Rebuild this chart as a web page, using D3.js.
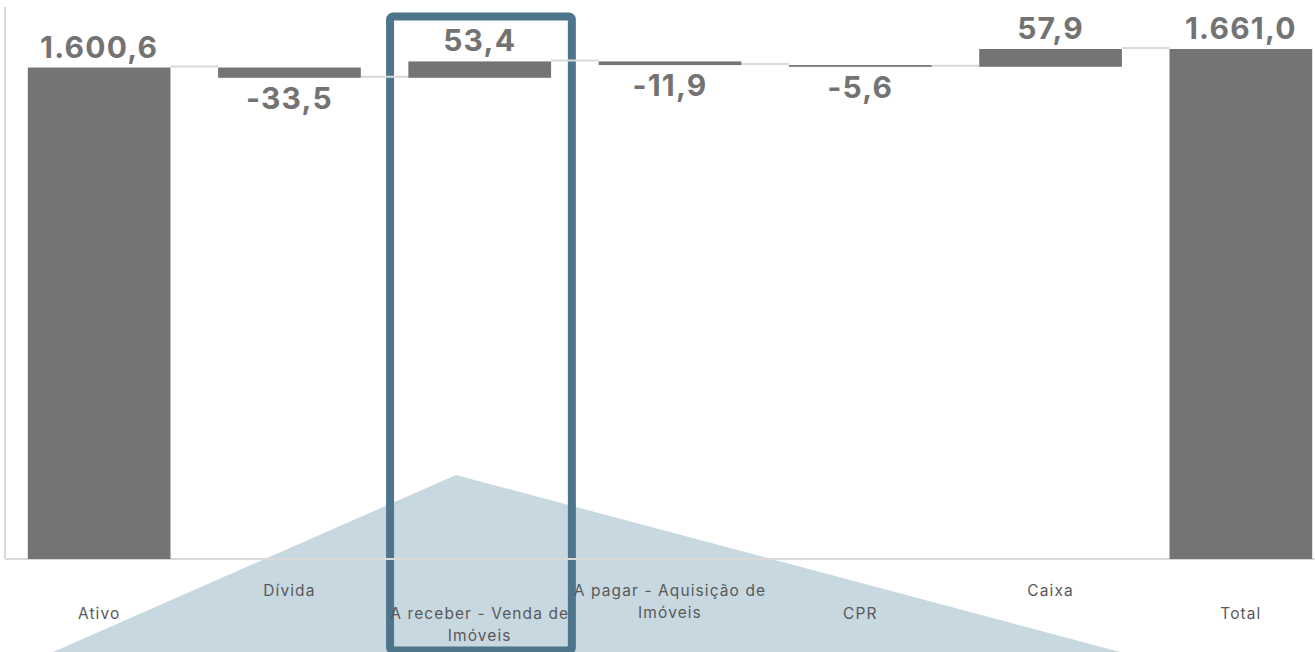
<!DOCTYPE html>
<html lang="pt-BR">
<head>
<meta charset="utf-8">
<script src="https://cdn.jsdelivr.net/npm/d3@7"></script>
<style>
  html, body { margin: 0; padding: 0; background: #ffffff; }
  svg { display: block; }
</style>
</head>
<body>
<svg id="chart" width="1315" height="652"></svg>
<script>
// Waterfall: composição do patrimônio (R$ milhões)
const categories = ["Ativo", "Dívida", "A receber - Venda de Imóveis", "A pagar - Aquisição de Imóveis", "CPR", "Caixa", "Total"];
const kinds      = ["total", "delta", "delta", "delta", "delta", "delta", "total"];
const values     = [1600.6, -33.5, 53.4, -11.9, -5.6, 57.9, 1661.0];
const highlighted = "A receber - Venda de Imóveis";

const W = 1315, H = 652;
const svg = d3.select("#chart");

const ptBR = d3.formatLocale({ decimal: ",", thousands: ".", grouping: [3], currency: ["R$ ", ""], minus: "-" });
const fmt = ptBR.format(",.1f");

// running totals -> bar extents
let run = 0;
const bars = categories.map((c, i) => {
  let y0, y1;
  if (kinds[i] === "total") { y0 = 0; y1 = values[i]; run = values[i]; }
  else { y0 = run; y1 = run + values[i]; run = y1; }
  return { cat: c, value: values[i], kind: kinds[i], y0, y1, end: run };
});

const x = d3.scaleBand().domain(categories).range([4, 1336]).paddingInner(0.25).paddingOuter(0.125);
const y = d3.scaleLinear().domain([0, 1700]).range([559, 37]);
const step = x.step();
const slotStart = c => x(c) - step * 0.125;

// decorative backdrop wedge
svg.append("polygon")
  .attr("points", [[456, 475], [53, 652], [1120, 652]].map(p => p.join(",")).join(" "))
  .attr("fill", "#c8d8e1");

// highlight frame around one category
svg.append("rect")
  .attr("x", slotStart(highlighted) + 5.5)
  .attr("y", 16.5)
  .attr("width", step - 8.5)
  .attr("height", 634)
  .attr("rx", 3)
  .attr("fill", "none")
  .attr("stroke", "#4d758b")
  .attr("stroke-width", 8);

// plot frame (left + bottom)
svg.append("line").attr("x1", 5).attr("x2", 5).attr("y1", 7).attr("y2", y(0))
  .attr("stroke", "#d9d9d9").attr("stroke-width", 2);
svg.append("line").attr("x1", 5).attr("x2", W).attr("y1", y(0)).attr("y2", y(0))
  .attr("stroke", "#d9d9d9").attr("stroke-width", 2);

// connectors between consecutive bars
svg.append("g").selectAll("line")
  .data(bars.slice(0, -1))
  .join("line")
  .attr("x1", d => x(d.cat) + x.bandwidth())
  .attr("x2", (d, i) => x(categories[i + 1]))
  .attr("y1", d => y(d.end) - 1)
  .attr("y2", d => y(d.end) - 1)
  .attr("stroke", "#d9d9d9")
  .attr("stroke-width", 2);

// bars
svg.append("g").selectAll("rect")
  .data(bars)
  .join("rect")
  .attr("x", d => x(d.cat))
  .attr("width", x.bandwidth())
  .attr("y", d => y(Math.max(d.y0, d.y1)))
  .attr("height", d => Math.max(1.5, Math.abs(y(d.y0) - y(d.y1))))
  .attr("fill", "#747474");

// value labels
svg.append("g").selectAll("text")
  .data(bars)
  .join("text")
  .attr("x", d => x(d.cat) + x.bandwidth() / 2)
  .attr("y", d => d.value < 0 ? y(Math.min(d.y0, d.y1)) + 31 : y(Math.max(d.y0, d.y1)) - 10)
  .attr("text-anchor", "middle")
  .attr("font-family", "Inter, 'Noto Sans', sans-serif")
  .attr("font-weight", 700)
  .attr("font-size", 30)
  .attr("letter-spacing", 1.2)
  .attr("fill", "#737373")
  .text(d => fmt(d.value));

// category labels, alternating rows, wrapped to the slot width
const catG = svg.append("g")
  .attr("font-family", "Inter, 'Noto Sans', sans-serif")
  .attr("font-size", 15.5)
  .attr("letter-spacing", 1.1)
  .attr("fill", "#595959");

categories.forEach((c, i) => {
  const cx = x(c) + x.bandwidth() / 2;
  const t = catG.append("text")
    .attr("x", cx)
    .attr("y", i % 2 === 0 ? 619 : 596)
    .attr("text-anchor", "middle");
  const words = c.split(" ");
  let line = [];
  let ts = t.append("tspan").attr("x", cx).attr("dy", 0);
  words.forEach(w => {
    line.push(w);
    ts.text(line.join(" "));
    if (ts.node().getComputedTextLength() > 205 && line.length > 1) {
      line.pop();
      ts.text(line.join(" "));
      line = [w];
      ts = t.append("tspan").attr("x", cx).attr("dy", 22).text(w);
    }
  });
});
</script>
</body>
</html>
